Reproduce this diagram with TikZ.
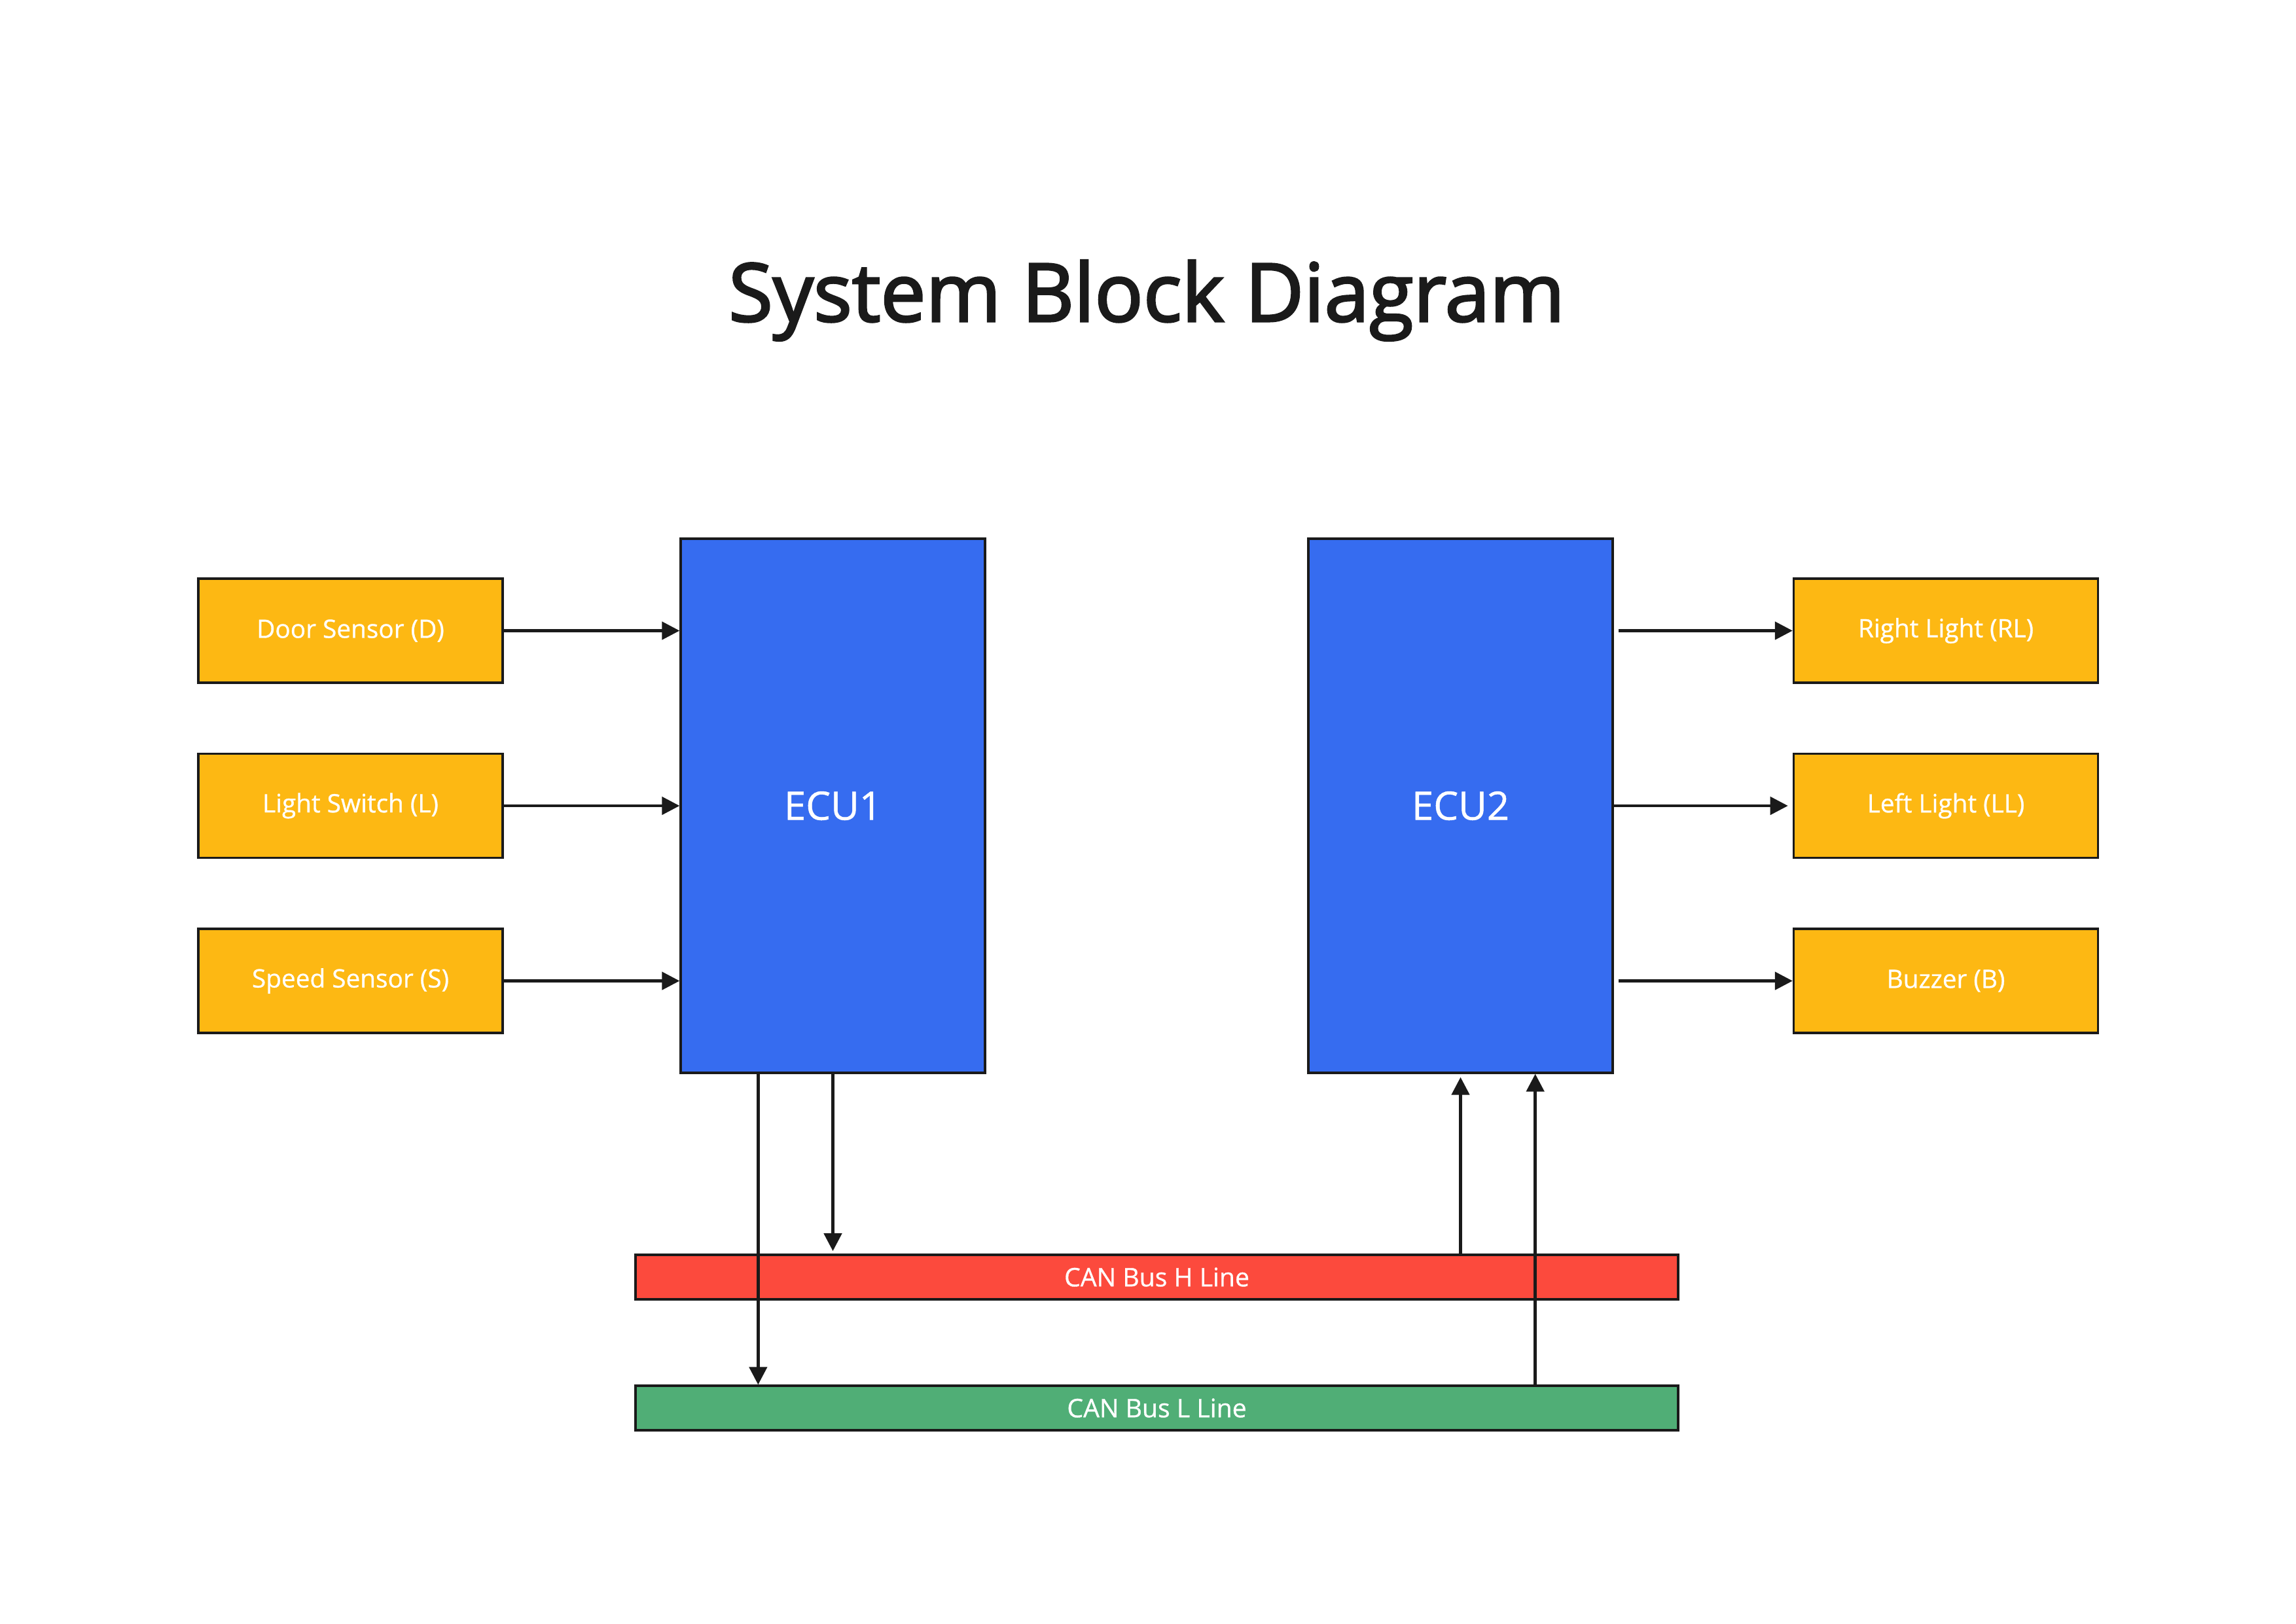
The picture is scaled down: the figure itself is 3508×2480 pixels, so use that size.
\documentclass[tikz,border=0pt]{standalone}
\usepackage{fontspec}
\setmainfont{Open Sans}
\newfontfamily\titlefont[FakeBold=2.5]{Open Sans}
\newfontfamily\labelfont[FakeBold=0.8]{Open Sans}
\usetikzlibrary{arrows.meta}
\definecolor{boxorange}{HTML}{FDB813}
\definecolor{ecublue}{HTML}{366CF0}
\definecolor{canred}{HTML}{FC4A3D}
\definecolor{cangreen}{HTML}{50AE76}
\definecolor{ink}{HTML}{1A1A1A}
\begin{document}
\begin{tikzpicture}[x=0.24pt,y=-0.24pt,
  iobox/.style={draw=ink,line width=0.8pt,fill=boxorange,text=white,
    minimum width=111.6pt,minimum height=38.2pt,inner sep=0pt,font=\labelfont\fontsize{9.3}{11}\selectfont},
  ecubox/.style={draw=ink,line width=0.8pt,fill=ecublue,text=white,
    minimum width=111.6pt,minimum height=195.8pt,inner sep=0pt,font=\labelfont\fontsize{14.4}{17}\selectfont},
  busbar/.style={draw=ink,line width=0.8pt,text=white,
    minimum width=382.3pt,minimum height=16.3pt,inner sep=0pt,font=\labelfont\fontsize{9.4}{11}\selectfont},
  conn/.style={draw=ink,line width=1.1pt,-{Triangle[length=6.5pt,width=6.5pt]}}]
\useasboundingbox (0,0) rectangle (3508,2480);
\fill[white] (0,0) rectangle (3508,2480);
\node[anchor=base,text=ink,font=\titlefont\fontsize{29.6}{35}\selectfont] (title) at (1752,491) {System Block Diagram};
\node[iobox] (door) at (535.5,963.5) {Door Sensor (D)};
\node[iobox] (light) at (535.5,1231) {Light Switch (L)};
\node[iobox] (speed) at (535.5,1498.5) {Speed Sensor (S)};
\node[ecubox] (ecu1) at (1272.5,1231) {ECU1};
\node[ecubox] (ecu2) at (2231.5,1231) {ECU2};
\node[iobox] (rl) at (2973,963.5) {Right Light (RL)};
\node[iobox] (ll) at (2973,1231) {Left Light (LL)};
\node[iobox] (bz) at (2973,1498.5) {Buzzer (B)};
\node[busbar,fill=canred] (canh) at (1767.5,1951) {CAN Bus H Line};
\node[busbar,fill=cangreen] (canl) at (1767.5,2151) {CAN Bus L Line};
% inputs
\draw[conn] (door.east) -- (door.east -| ecu1.west);
\draw[conn] (light.east) -- (light.east -| ecu1.west);
\draw[conn] (speed.east) -- (speed.east -| ecu1.west);
% outputs
\draw[conn,shorten <=1.7pt] (rl.west -| ecu2.east) -- (rl.west);
\draw[conn,shorten >=1.7pt] (ll.west -| ecu2.east) -- (ll.west);
\draw[conn,shorten <=1.7pt] (bz.west -| ecu2.east) -- (bz.west);
% bus connections
\coordinate (e1a) at ([xshift=-27.4pt]ecu1.south);
\coordinate (e2b) at ([xshift=27.4pt]ecu2.south);
\draw[conn] (e1a) -- (e1a |- canl.north);
\draw[conn,shorten >=1pt] (ecu1.south) -- (ecu1.south |- canh.north);
\draw[conn,shorten >=1.2pt] (ecu2.south |- canh.north) -- (ecu2.south);
\draw[conn] (e2b |- canl.north) -- (e2b);
\end{tikzpicture}
\end{document}
